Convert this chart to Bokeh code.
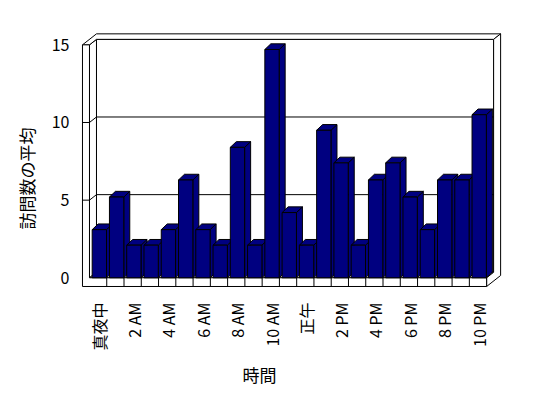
import math
from bokeh.plotting import figure
from bokeh.models import Range1d, FixedTicker, Title
from bokeh.embed import file_html
from bokeh.resources import INLINE

# ---- data ----
hours = list(range(23))
visits = [3.1, 5.2, 2.1, 2.1, 3.1, 6.3, 3.1, 2.1, 8.4, 2.1, 14.7, 4.2,
          2.1, 9.5, 7.4, 2.1, 6.3, 7.4, 5.2, 3.1, 6.3, 6.3, 10.5]
tick_hours = [0, 2, 4, 6, 8, 10, 12, 14, 16, 18, 20, 22]
tick_labels = ["真夜中", "2 AM", "4 AM", "6 AM", "8 AM", "10 AM",
               "正午", "2 PM", "4 PM", "6 PM", "8 PM", "10 PM"]
y_ticks = [0, 5, 10, 15]
y_max = 15
x_title = "時間"
y_title = "訪問数の平均"

# ---- style / geometry ----
FONT = "Noto Sans CJK JP"
PX_X = 17.27   # px per category slot
PX_Y = 15.53   # px per value unit
DX = 7.0 / PX_X      # depth offset (per depth unit) in data x
DY = 5.5 / PX_Y      # depth offset in data y
WALL = 7.0 / PX_X    # left wall thickness
FLOOR = 8.7 / PX_Y   # floor thickness
BAR_OFF = 0.156
BAR_W = 0.83
BDX = 6.0 / PX_X
BDY = 5.7 / PX_Y
NAVY = "#000080"
N = len(hours)

x_start, x_end = -0.52, 23.92
y_start, y_end = -0.69, 15.86

p = figure(frame_width=int(round((x_end - x_start) * PX_X)),
           frame_height=int(round((y_end - y_start) * PX_Y)),
           x_range=Range1d(x_start, x_end), y_range=Range1d(y_start, y_end),
           output_backend="svg", toolbar_location=None,
           min_border_left=80, min_border_right=30,
           min_border_top=31, min_border_bottom=94)
p.outline_line_color = None
p.xgrid.visible = False
p.ygrid.visible = False
p.background_fill_color = "white"
p.border_fill_color = "white"


def P(X, Y, Z):
    return X + Z * DX, Y + Z * DY


def face(pts):
    xs = [P(*q)[0] for q in pts]
    ys = [P(*q)[1] for q in pts]
    p.patch(xs, ys, fill_color="white", line_color="black", line_width=1)


YM = y_max
W = WALL
F = FLOOR
# back wall front face
face([(0, 0, 1), (N, 0, 1), (N, YM, 1), (0, YM, 1)])
# left wall inner face
face([(0, 0, 0), (0, YM, 0), (0, YM, 1), (0, 0, 1)])
# floor top
face([(0, 0, 0), (N, 0, 0), (N, 0, 1), (0, 0, 1)])
# top faces (left wall + back wall)
face([(-W, YM, 0), (0, YM, 0), (0, YM, 1), (N, YM, 1), (N, YM, 2), (-W, YM, 2)])
# right faces (floor + back wall)
face([(N, -F, 0), (N, 0, 0), (N, 0, 1), (N, YM, 1), (N, YM, 2), (N, -F, 2)])
# front faces (left wall + floor)
face([(-W, -F, 0), (N, -F, 0), (N, 0, 0), (0, 0, 0), (0, YM, 0), (-W, YM, 0)])

# gridlines
for yv in y_ticks[1:-1]:
    pts = [(-W, yv, 0), (0, yv, 0), (0, yv, 1), (N, yv, 1)]
    p.line([P(*q)[0] for q in pts], [P(*q)[1] for q in pts],
           line_color="black", line_width=1)

# floor dividers
divs = list(range(1, N))
p.segment(x0=divs, y0=[-F] * len(divs), x1=divs, y1=[0] * len(divs),
          line_color="black", line_width=1)

# bars
sx, sy, tx, ty, fx, fy = [], [], [], [], [], []
for h, v in zip(hours, visits):
    x0 = h + BAR_OFF
    x1 = x0 + BAR_W
    sx.append([x1, x1, x1 + BDX, x1 + BDX])
    sy.append([0, v, v + BDY, BDY])
    tx.append([x0, x1, x1 + BDX, x0 + BDX])
    ty.append([v, v, v + BDY, v + BDY])
    fx.append([x0, x1, x1, x0])
    fy.append([0, 0, v, v])
for xs, ys in ((sx, sy), (tx, ty), (fx, fy)):
    p.patches(xs, ys, fill_color=NAVY, line_color="black", line_width=1)

# axes
ya = p.yaxis[0]
ya.ticker = FixedTicker(ticks=y_ticks)
ya.axis_line_color = None
ya.major_tick_line_color = None
ya.minor_tick_line_color = None
ya.major_label_standoff = 5
ya.major_label_text_font = FONT
ya.major_label_text_font_size = "16px"
ya.major_label_text_color = "black"

xa = p.xaxis[0]
tick_pos = [h + 0.55 for h in tick_hours]
xa.ticker = FixedTicker(ticks=tick_pos)
xa.major_label_overrides = {t: lab for t, lab in zip(tick_pos, tick_labels)}
xa.major_label_orientation = math.pi / 2
xa.axis_line_color = None
xa.major_tick_line_color = None
xa.minor_tick_line_color = None
xa.major_label_standoff = 8
xa.major_label_text_font = FONT
xa.major_label_text_font_size = "16px"
xa.major_label_text_color = "black"

yt = Title(text=y_title, align="left", offset=59, standoff=19, text_font=FONT,
           text_font_size="17px", text_font_style="normal", text_color="black")
p.add_layout(yt, "left")
xt = Title(text=x_title, align="left", offset=162, standoff=13, text_font=FONT,
           text_font_size="17px", text_font_style="normal", text_color="black")
p.add_layout(xt, "below")

open("out.html", "w").write(file_html(p, INLINE))
